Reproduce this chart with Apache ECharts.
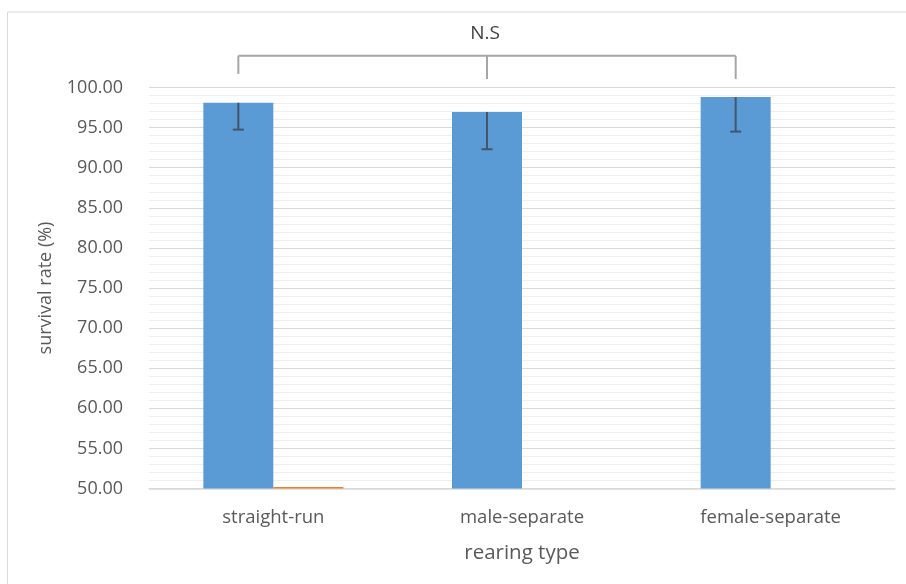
<!DOCTYPE html>
<html>
<head>
<meta charset="utf-8">
<script src="https://cdn.jsdelivr.net/npm/echarts@6/dist/echarts.min.js"></script>
<style>
  html, body { margin: 0; padding: 0; background: #ffffff; }
  #chart { width: 906px; height: 584px; }
</style>
</head>
<body>
<div id="chart"></div>
<script>
// Survival rate by rearing type
const categories = ['straight-run', 'male-separate', 'female-separate'];
const survivalMean = [98.1, 96.95, 98.8];      // blue bars (%)
const survivalErrMinus = [3.35, 4.65, 4.3];    // lower error bar length (%)
const secondSeries = [50.2, null, null];       // orange series, only visible at straight-run
const yTicks = { min: 50, max: 100, step: 5 };
const bracketLabel = 'N.S';
const bracketLevels = { top: 103.95, leftEnd: 101.68, otherEnds: 101.06, text: 106.7 };

const FONT = '"Open Sans", "Noto Sans", sans-serif';
const TEXT_COLOR = '#595959';
const CAT_GAP = 0.437;

const chart = echarts.init(document.getElementById('chart'), null, { renderer: 'canvas' });

// x-centre of the blue bar inside a category band
function blueBarX(api, idx, yVal) {
  const pt = api.coord([idx, yVal]);
  const band = api.size([1, 0])[0];
  const barW = band * (1 - CAT_GAP) / 2;
  return [pt[0] - barW / 2, pt[1]];
}

const errorData = survivalMean.map((v, i) => [i, v, v - survivalErrMinus[i]]);

const option = {
  animation: false,
  backgroundColor: '#ffffff',
  textStyle: { fontFamily: FONT },
  graphic: [{
    type: 'rect',
    left: 5, top: 9.5,
    shape: { width: 1000, height: 1000 },
    style: { fill: 'none', stroke: '#d9d9d9', lineWidth: 1 },
    silent: true
  }],
  grid: { left: 149, right: 11, top: 87.5, bottom: 95.5, containLabel: false },
  xAxis: {
    type: 'category',
    data: categories,
    name: 'rearing type',
    nameLocation: 'middle',
    nameGap: 54,
    nameTextStyle: { fontSize: 20.5, color: TEXT_COLOR, fontFamily: FONT },
    axisLine: { show: true, lineStyle: { color: '#d9d9d9', width: 1.5 } },
    axisTick: { show: false },
    axisLabel: { fontSize: 18.5, color: TEXT_COLOR, margin: 20, fontFamily: FONT },
    splitLine: { show: false }
  },
  yAxis: {
    type: 'value',
    min: yTicks.min,
    max: yTicks.max,
    interval: yTicks.step,
    name: 'survival rate (%)',
    nameLocation: 'middle',
    nameGap: 94,
    nameRotate: 90,
    nameTextStyle: { fontSize: 18, color: TEXT_COLOR, fontFamily: FONT },
    axisLine: { show: false },
    axisTick: { show: false },
    axisLabel: {
      fontSize: 18, color: TEXT_COLOR, margin: 26, fontFamily: FONT,
      formatter: v => v.toFixed(2)
    },
    splitLine: { show: true, lineStyle: { color: '#d9d9d9', width: 1 } },
    minorTick: { show: false, splitNumber: 5 },
    minorSplitLine: { show: true, lineStyle: { color: '#eeeeee', width: 1 } }
  },
  series: [
    {
      name: 'survival',
      type: 'bar',
      data: survivalMean,
      barGap: '0%',
      barCategoryGap: (CAT_GAP * 100) + '%',
      itemStyle: { color: '#5b9bd5' },
      z: 2
    },
    {
      name: 'second',
      type: 'bar',
      data: secondSeries,
      itemStyle: { color: '#ed7d31' },
      z: 2
    },
    {
      name: 'error',
      type: 'custom',
      data: errorData,
      z: 5,
      renderItem: function (params, api) {
        const idx = api.value(0);
        const top = blueBarX(api, idx, api.value(1));
        const low = blueBarX(api, idx, api.value(2));
        const cap = 5.5;
        const style = { stroke: '#44546a', lineWidth: 2 };
        return {
          type: 'group',
          children: [
            { type: 'line', shape: { x1: top[0], y1: top[1], x2: low[0], y2: low[1] }, style },
            { type: 'line', shape: { x1: low[0] - cap, y1: low[1], x2: low[0] + cap, y2: low[1] }, style }
          ]
        };
      }
    },
    {
      name: 'bracket',
      type: 'custom',
      data: [[0]],
      clip: false,
      silent: true,
      z: 5,
      renderItem: function (params, api) {
        const l = blueBarX(api, 0, bracketLevels.top);
        const m = blueBarX(api, 1, bracketLevels.top);
        const r = blueBarX(api, 2, bracketLevels.top);
        const lEnd = blueBarX(api, 0, bracketLevels.leftEnd);
        const mEnd = blueBarX(api, 1, bracketLevels.otherEnds);
        const rEnd = blueBarX(api, 2, bracketLevels.otherEnds);
        const txt = blueBarX(api, 1, bracketLevels.text);
        const style = { stroke: '#a6a6a6', lineWidth: 2 };
        return {
          type: 'group',
          children: [
            { type: 'line', shape: { x1: l[0], y1: l[1], x2: r[0], y2: r[1] }, style },
            { type: 'line', shape: { x1: l[0], y1: l[1], x2: lEnd[0], y2: lEnd[1] }, style },
            { type: 'line', shape: { x1: m[0], y1: m[1], x2: mEnd[0], y2: mEnd[1] }, style },
            { type: 'line', shape: { x1: r[0], y1: r[1], x2: rEnd[0], y2: rEnd[1] }, style },
            {
              type: 'text',
              style: {
                x: txt[0] - 2, y: txt[1], text: bracketLabel,
                fontSize: 19, fontFamily: FONT, fill: '#404040',
                align: 'center', verticalAlign: 'middle'
              }
            }
          ]
        };
      }
    }
  ]
};

chart.setOption(option);
</script>
</body>
</html>
